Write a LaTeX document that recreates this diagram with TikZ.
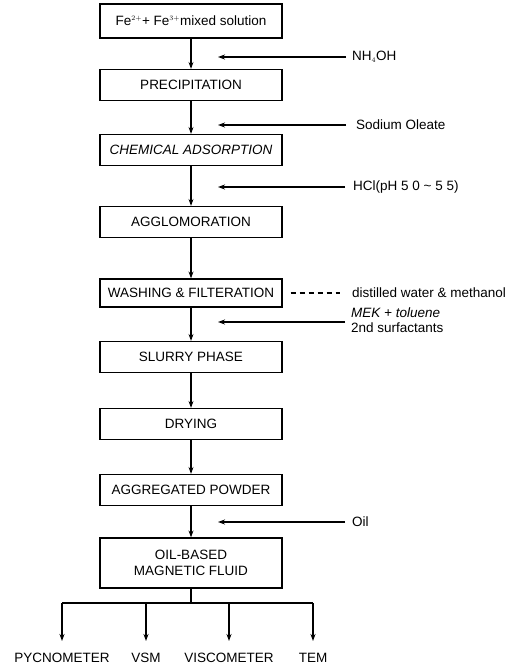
\documentclass[tikz,border=0pt]{standalone}
\usepackage{fontspec}
\setmainfont{Liberation Sans}
\usetikzlibrary{arrows.meta}
\begin{document}
\begin{tikzpicture}[x=1pt,y=-1pt,
  box/.style={draw,line width=1.2pt,minimum width=182pt,minimum height=31pt,inner sep=0pt,font=\fontsize{13.5}{15}\selectfont,align=center},
  flow/.style={line width=1.2pt,-{Stealth[length=7pt,width=5pt]}},
  lbl/.style={anchor=west,font=\fontsize{13.5}{15}\selectfont,inner sep=0pt,align=left},
  conn/.style={line width=1.2pt}]
\useasboundingbox (0,0) rectangle (529,667);
\node[box,minimum height=34pt] (fe) at (191,21) {Fe$^{\scriptscriptstyle 2+}$+ Fe$^{\scriptscriptstyle 3+}$mixed solution};
\node[box] (prec) at (191,85) {PRECIPITATION};
\node[box,font=\fontsize{13.5}{15}\selectfont\itshape] (chem) at (191,150) {CHEMICAL ADSORPTION};
\node[box] (agg) at (191,222) {AGGLOMORATION};
\node[box,minimum height=28pt] (wash) at (191,293) {WASHING \& FILTERATION};
\node[box] (slur) at (191,357) {SLURRY PHASE};
\node[box] (dry) at (191,424) {DRYING};
\node[box] (aggp) at (191,490) {AGGREGATED POWDER};
\node[box,minimum height=50pt,font=\fontsize{13.5}{16}\selectfont] (oil) at (191,563) {OIL-BASED\\MAGNETIC FLUID};

\foreach \a/\b in {fe/prec,prec/chem,chem/agg,agg/wash,wash/slur,slur/dry,dry/aggp,aggp/oil}
  \draw[flow] (\a) -- (\b);

% side inputs
\node[lbl] (nh) at (352,57) {NH$_{\scriptscriptstyle 4}$OH};
\coordinate (t1) at (218,57);
\draw[flow] (nh.west) ++(-6,0) -- (t1);
\node[lbl] (so) at (356,125) {Sodium Oleate};
\coordinate (t2) at (218,125);
\draw[flow] (so.west) ++(-10,0) -- (t2);
\node[lbl] (hcl) at (353,187) {HCl(pH 5 0 \textasciitilde{} 5 5)};
\coordinate (t3) at (218,187);
\draw[flow] (hcl.west) ++(-8,0) -- (t3);
\node[lbl] (dw) at (352,293) {distilled water \& methanol};
\draw[conn,dashed,dash pattern=on 5pt off 4pt] ([xshift=8pt]wash.east) -- ([xshift=-12pt]dw.west);
\node[lbl] (mek) at (351,320) {\itshape MEK + toluene\\2nd surfactants};
\coordinate (t4) at (218,322);
\draw[flow] (345,322) -- (t4);
\node[lbl] (oill) at (352,522) {Oil};
\coordinate (t5) at (218,522);
\draw[flow] (oill.west) ++(-7,0) -- (t5);

% branches
\coordinate (br) at (191,603);
\draw[conn] (oil.south) -- (br);
\draw[conn] (62,603) -- (313,603);
\foreach \x/\n/\t in {62/p/PYCNOMETER,146/v/VSM,229/vi/VISCOMETER,313/te/TEM}{
  \node[font=\fontsize{13.5}{15}\selectfont,inner sep=0pt] (\n) at (\x,658) {\t};
  \coordinate (\n top) at (\x,603);
  \coordinate (\n tip) at (\x,641);
  \draw[flow] (\n top) -- (\n tip);
}
\end{tikzpicture}
\end{document}
